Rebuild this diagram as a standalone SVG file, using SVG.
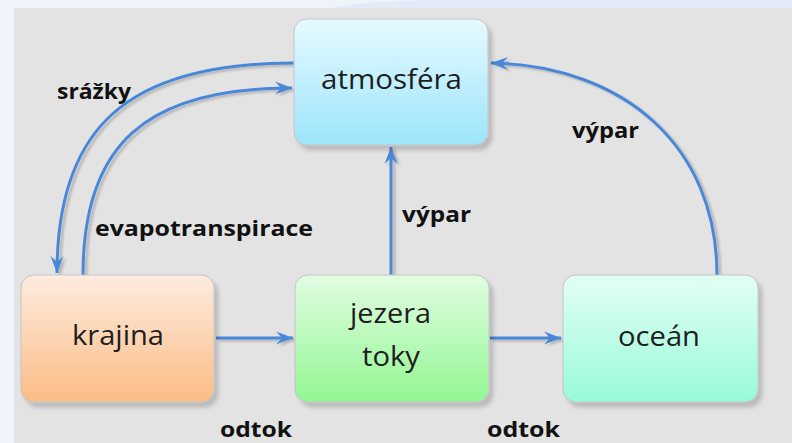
<svg xmlns="http://www.w3.org/2000/svg" width="792" height="443" viewBox="0 0 792 443">
  <defs>
    <linearGradient id="gAtm" x1="0" y1="0" x2="0" y2="1">
      <stop offset="0" stop-color="#e6faff"/>
      <stop offset="1" stop-color="#9de5fb"/>
    </linearGradient>
    <linearGradient id="gKra" x1="0" y1="0" x2="0" y2="1">
      <stop offset="0" stop-color="#fdece0"/>
      <stop offset="1" stop-color="#fcbc85"/>
    </linearGradient>
    <linearGradient id="gJez" x1="0" y1="0" x2="0" y2="1">
      <stop offset="0" stop-color="#e2fde2"/>
      <stop offset="1" stop-color="#92f693"/>
    </linearGradient>
    <linearGradient id="gOce" x1="0" y1="0" x2="0" y2="1">
      <stop offset="0" stop-color="#e3fff5"/>
      <stop offset="1" stop-color="#98fad8"/>
    </linearGradient>
    <filter id="nodeShadow" x="-10%" y="-10%" width="130%" height="130%">
      <feDropShadow dx="4" dy="5" stdDeviation="2" flood-color="#000" flood-opacity="0.18"/>
    </filter>
    <filter id="lineShadow" x="-10%" y="-10%" width="130%" height="130%">
      <feDropShadow dx="3" dy="2" stdDeviation="1" flood-color="#000" flood-opacity="0.2"/>
    </filter>
    <marker id="arrow" viewBox="-18 -8 19 16" refX="0" refY="0" markerWidth="19" markerHeight="16" markerUnits="userSpaceOnUse" orient="auto">
      <path d="M0,0 L-17,-6.5 L-11,0 L-17,6.5 Z" fill="#4a87d9"/>
    </marker>
  </defs>
  <style>
    .node rect { stroke: #c4c4c4; stroke-width: 1; filter: url(#nodeShadow); }
    .ntext { font-family: "Open Sans", "Liberation Sans", sans-serif; font-size: 27px; fill: #1e1e1e; text-anchor: middle; }
    .lbl { font-family: "Open Sans", "Liberation Sans", sans-serif; font-size: 22px; font-weight: bold; fill: #111; }
    .conn { fill: none; stroke: #4a87d9; stroke-width: 3; marker-end: url(#arrow); }
  </style>

  <!-- background -->
  <rect x="0" y="0" width="792" height="443" fill="#eff4fb"/>
  <path d="M330,8 C380,-2 460,0 560,0 L792,0 L792,8 Z" fill="#e2ebf7"/>
  <rect x="14" y="8" width="778" height="435" fill="#e3e3e3"/>

  <!-- connectors -->
  <g id="connectors" filter="url(#lineShadow)">
    <path class="conn" d="M294,63 C128,63 57,127 57,273"/>
    <path class="conn" d="M83,275 C83,144 146,88 292,88"/>
    <path class="conn" d="M391,275 L391,147"/>
    <path class="conn" d="M717,275 C717,148 626,66 491,63"/>
    <path class="conn" d="M216,338 L293,338"/>
    <path class="conn" d="M490,338 L561,338"/>
  </g>

  <!-- nodes -->
  <g id="atmosfera" class="node">
    <rect x="294" y="19" width="194" height="126" rx="13" fill="url(#gAtm)"/>
    <text class="ntext" x="391.5" y="89" textLength="141" lengthAdjust="spacingAndGlyphs">atmosféra</text>
  </g>
  <g id="krajina" class="node">
    <rect x="21" y="275" width="193" height="127" rx="13" fill="url(#gKra)"/>
    <text class="ntext" x="118" y="345" textLength="92" lengthAdjust="spacingAndGlyphs">krajina</text>
  </g>
  <g id="jezera" class="node">
    <rect x="295" y="275" width="194" height="127" rx="13" fill="url(#gJez)"/>
    <text class="ntext" x="390.5" y="323" textLength="81" lengthAdjust="spacingAndGlyphs">jezera</text>
    <text class="ntext" x="391" y="366" textLength="58" lengthAdjust="spacingAndGlyphs">toky</text>
  </g>
  <g id="ocean" class="node">
    <rect x="563" y="275" width="195" height="127" rx="13" fill="url(#gOce)"/>
    <text class="ntext" x="659" y="346" textLength="82" lengthAdjust="spacingAndGlyphs">oceán</text>
  </g>

  <!-- labels -->
  <g id="labels">
    <text class="lbl" x="57" y="99" textLength="74" lengthAdjust="spacingAndGlyphs">srážky</text>
    <text class="lbl" x="95" y="236" textLength="218" lengthAdjust="spacingAndGlyphs">evapotranspirace</text>
    <text class="lbl" x="402" y="222" textLength="69" lengthAdjust="spacingAndGlyphs">výpar</text>
    <text class="lbl" x="572" y="138" textLength="67" lengthAdjust="spacingAndGlyphs">výpar</text>
    <text class="lbl" x="220" y="437" textLength="72" lengthAdjust="spacingAndGlyphs">odtok</text>
    <text class="lbl" x="487" y="437" textLength="73" lengthAdjust="spacingAndGlyphs">odtok</text>
  </g>
</svg>
